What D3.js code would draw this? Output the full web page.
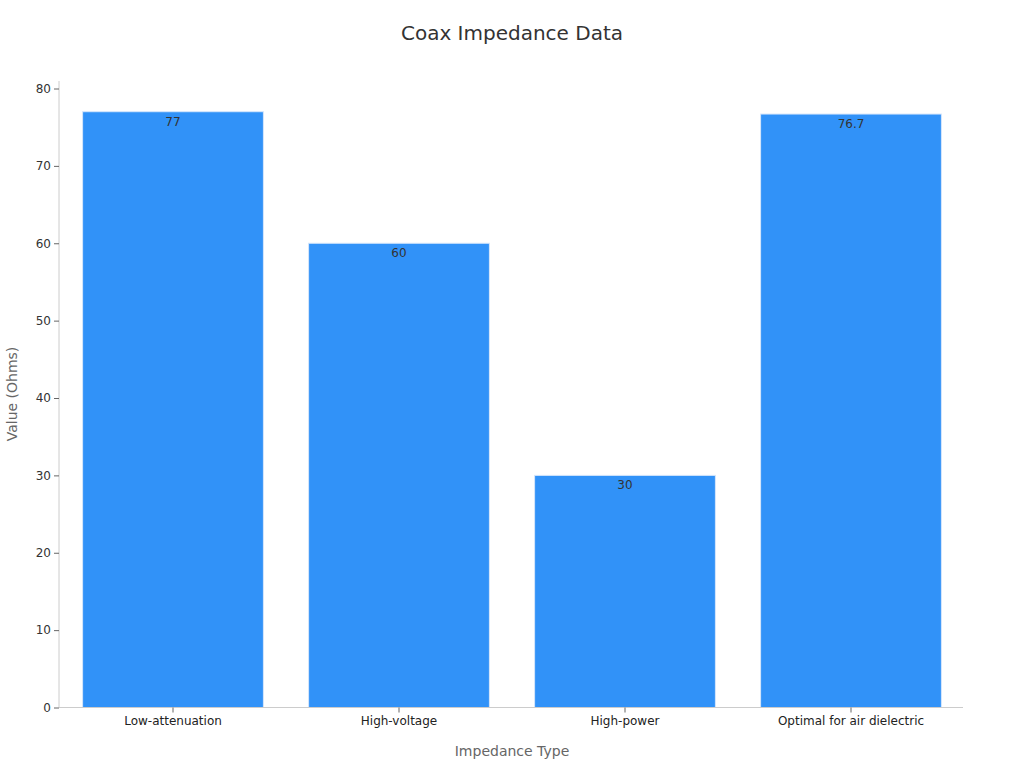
<!DOCTYPE html>
<html><head><meta charset="utf-8">
<script src="https://cdn.jsdelivr.net/npm/d3@7"></script>
<style>body{margin:0;background:#fff;font-family:"DejaVu Sans",sans-serif;}</style>
</head><body><svg id="c" width="1024" height="768"></svg>
<script>
const categories = ["Low-attenuation","High-voltage","High-power","Optimal for air dielectric"];
const values = [77, 60, 30, 76.7];
const yTicks = [0,10,20,30,40,50,60,70,80];

const svg = d3.select("#c");
const m = {l:59, r:61, t:81, b:61};
const W = 1024, H = 768;
const x = d3.scaleBand().domain(categories).range([m.l+1, W-m.r+1]).paddingInner(0.2).paddingOuter(0.1);
const y = d3.scaleLinear().domain([0,80]).range([707.5, 88.5]);

svg.append("text").attr("x",512).attr("y",40).attr("text-anchor","middle")
  .attr("font-size",20).attr("fill","#333").text("Coax Impedance Data");

// bars
svg.selectAll("rect.bar").data(values).join("rect").attr("class","bar")
  .attr("x",(d,i)=>x(categories[i])).attr("width",x.bandwidth())
  .attr("y",d=>y(d)).attr("height",d=>y(0)-y(d))
  .attr("fill","#3192f8").attr("stroke","#d6e6fb").attr("stroke-width",1);

svg.selectAll("text.val").data(values).join("text").attr("class","val")
  .attr("x",(d,i)=>x(categories[i])+x.bandwidth()/2).attr("y",d=>y(d)+14)
  .attr("text-anchor","middle").attr("font-size",12).attr("fill","#333").text(d=>d);

// y axis
const ya = svg.append("g").attr("transform",`translate(${m.l},0)`)
  .call(d3.axisLeft(y).tickValues(yTicks).tickSize(5).tickPadding(3));
ya.select(".domain").attr("stroke","#ccc").attr("d",`M0,${m.t}V707.5`);
ya.selectAll(".tick line").attr("stroke","#666");
ya.selectAll(".tick text").attr("font-size",12).attr("fill","#333").attr("font-family","DejaVu Sans");

// x axis
const xa = svg.append("g").attr("transform",`translate(0,707.5)`)
  .call(d3.axisBottom(x).tickSize(5).tickPadding(4));
xa.select(".domain").attr("stroke","#ccc").attr("d",`M${m.l},0H${W-m.r}`);
xa.selectAll(".tick line").attr("stroke","#666");
xa.selectAll(".tick text").attr("font-size",12).attr("fill","#222").attr("font-family","DejaVu Sans");

svg.append("text").attr("x",512).attr("y",756).attr("text-anchor","middle")
  .attr("font-size",14).attr("fill","#666").text("Impedance Type");
svg.append("text").attr("transform","translate(17,394) rotate(-90)").attr("text-anchor","middle")
  .attr("font-size",14).attr("fill","#666").text("Value (Ohms)");
</script></body></html>
